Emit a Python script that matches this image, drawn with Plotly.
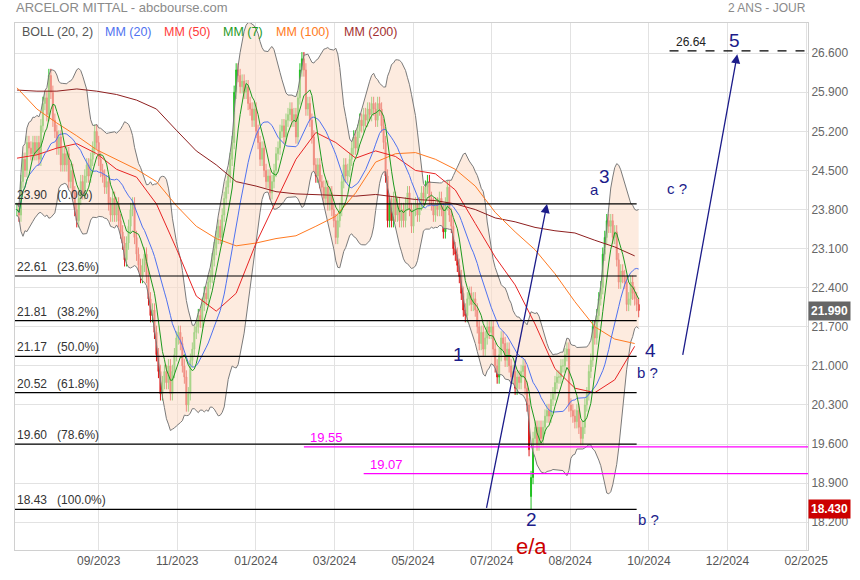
import numpy as np
import pandas as pd
import plotly.graph_objects as go

title_text = "ARCELOR MITTAL - abcbourse.com"
period_text = "2 ANS - JOUR"

# Daily closes (left to right)
seg_a = [23.8, 23.7, 24.3, 24.7, 24.5, 25.0, 24.9, 24.8, 25.0, 24.8,
         25.0, 24.7, 25.3, 25.7, 25.8, 25.5, 26.2, 25.9, 25.4, 25.2,
         24.9, 25.1, 24.6, 24.8, 24.6, 24.8, 24.3, 24.5, 24.1, 23.8,
         23.6, 24.0, 24.3, 24.1, 24.4, 24.6, 24.4, 24.7, 24.9, 25.2,
         25.0, 24.7, 24.5, 24.4, 24.2, 24.3, 23.9, 23.7, 24.0, 23.7,
         23.9, 23.6, 23.4, 23.2, 22.9, 23.2, 23.5, 23.8, 23.9, 23.3,
         23.0, 22.8, 22.6, 22.8, 23.0, 22.6, 22.2, 21.9, 22.0, 21.6,
         21.2, 20.9, 20.5, 20.7, 20.9, 20.7, 21.0, 20.5, 20.9, 21.2,
         21.5, 21.6]
seg_b = [21.4, 21.0, 20.8, 20.3, 20.5, 21.1, 21.3, 21.6, 21.7, 21.9,
         21.8, 22.1, 22.3, 22.2, 22.5, 22.6, 22.9, 23.1, 23.3, 23.5,
         23.3, 23.7, 24.0, 24.2, 24.4, 24.7, 25.0, 25.9, 26.3, 26.2,
         26.0, 26.1, 25.9, 26.0, 25.7, 25.6, 25.4, 25.6, 25.2, 25.0,
         24.7, 24.9, 24.5, 24.3, 24.4, 24.1, 24.3, 24.5, 24.8, 24.9,
         25.2, 25.3, 25.1, 25.4, 25.5, 25.6, 25.4, 25.5, 25.1, 25.8,
         26.3, 26.5, 26.3, 25.6, 25.7, 25.4, 25.1, 24.6, 24.4, 24.6,
         24.3, 24.2, 24.0, 24.2, 23.9, 24.1, 23.8, 23.6, 23.3, 23.6,
         23.8, 24.3, 24.6, 24.4, 24.5]
seg_c = [24.7, 24.9, 25.1, 24.9, 25.2, 25.4, 25.3, 25.5, 25.4, 25.6,
         25.5, 25.7, 25.6, 25.4, 25.7, 25.6, 25.3, 25.0, 24.4, 23.6,
         23.9, 23.6, 24.0, 23.7, 23.9, 23.6, 23.8, 23.6, 23.9, 24.1,
         23.8, 23.5, 23.8, 23.9, 23.7, 23.9, 24.1, 24.0, 24.2, 24.3,
         24.0, 23.9, 23.7, 23.9, 23.8, 24.0, 23.8, 23.4, 23.9, 24.2,
         23.7, 23.5, 23.1, 23.0, 22.8, 22.6, 22.3, 22.0, 21.9, 22.2,
         22.3, 22.1, 22.2, 22.0, 21.7, 21.4, 21.6, 21.3, 21.5, 21.7,
         21.6, 21.7, 21.3, 21.0, 20.8, 21.2]
seg_d = [21.5, 21.4, 21.1, 21.3, 21.0, 20.8, 20.9, 20.6, 20.8, 20.7,
         20.9, 21.0, 20.6, 20.3, 19.5, 19.0, 19.7, 19.9, 19.6, 19.9,
         19.7, 19.9, 20.1, 20.2, 20.1, 20.4, 20.5, 20.7, 20.8, 20.8,
         21.0, 21.0, 21.2, 21.3, 20.3, 20.2, 20.1, 20.0, 20.2, 19.9,
         19.7, 19.9, 20.3, 20.5, 20.9, 21.1, 21.7, 21.5, 21.9, 22.2,
         22.4, 23.0, 23.3, 23.6, 23.5, 23.6, 23.3, 23.4, 22.9, 22.5,
         22.7, 22.6, 22.5, 22.1, 22.2, 22.5, 22.3, 22.2, 22.1, 21.99]

# The August spike bar (gap down, green body, low at 18.43)
spike_bar = 258
spike_open = 18.66
spike_low = 18.43
wick = 0.12

# Long moving averages, one value every 10 bars
ma_step = 10
mm50 = [24.72, 24.78, 24.90, 24.98, 24.80, 24.52, 24.38, 23.90, 23.10, 22.25,
        21.98, 22.30, 23.20, 23.95, 24.70, 25.18, 25.00, 24.72, 24.85, 24.75,
        24.50, 24.44, 24.15, 23.55, 22.95, 22.45, 21.75, 20.95, 20.60, 20.52,
        20.75, 21.35]
mm100 = [25.98, 25.60, 25.35, 25.12, 24.87, 24.70, 24.52, 24.30, 23.87, 23.50,
         23.28, 23.15, 23.20, 23.28, 23.33, 23.50, 23.68, 24.10, 24.65, 24.80,
         24.82, 24.70, 24.52, 24.22, 23.75, 23.40, 23.08, 22.65, 22.15, 21.70,
         21.48, 21.40]
mm200 = [25.94, 25.92, 25.92, 25.96, 25.92, 25.86, 25.76, 25.60, 25.22, 24.85,
         24.60, 24.30, 24.22, 24.12, 24.08, 24.07, 24.05, 24.04, 24.07, 24.03,
         23.98, 23.96, 23.90, 23.80, 23.65, 23.58, 23.48, 23.42, 23.38, 23.25,
         23.13, 22.97]

tick_labels = ["09/2023", "11/2023", "01/2024", "03/2024", "05/2024",
               "07/2024", "08/2024", "10/2024", "12/2024", "02/2025"]
first_tick = 41
tick_step = 39.45

fib_levels = [23.90, 22.61, 21.81, 21.17, 20.52, 19.60, 18.43]
fib_pcts = ["0.0%", "23.6%", "38.2%", "50.0%", "61.8%", "78.6%", "100.0%"]
support_levels = [19.55, 19.07]
support_start = [144, 174]
target_level = 26.64
target_start = 327.5

last_price = 21.99
low_price = 18.43

# ----------------------------------------------------------------------
closes = seg_a + seg_b + seg_c + seg_d
n = len(closes)
idx = np.arange(n)
opens = [closes[0]] + closes[:-1]
opens[spike_bar] = spike_open
highs = [max(o, c) + wick for o, c in zip(opens, closes)]
lows = [min(o, c) - wick for o, c in zip(opens, closes)]
lows[spike_bar] = spike_low

s = pd.Series(closes)
mm7 = s.rolling(7, min_periods=1).mean()
mm20 = s.rolling(20, min_periods=1).mean()
sd20 = s.rolling(20, min_periods=2).std(ddof=0).bfill()
bb_up = mm20 + 2 * sd20
bb_lo = mm20 - 2 * sd20

ma_x = np.arange(len(mm50)) * ma_step

C_BLUE = "#4f72f0"
C_RED = "#e82424"
C_GREEN = "#1f9a1f"
C_ORANGE = "#ff7a22"
C_DRED = "#8e1f1f"
C_NAVY = "#1c1c8a"

fig = go.Figure()
fig.add_trace(go.Scatter(x=idx, y=bb_up, mode="lines",
                         line=dict(color="#7a7a7a", width=1), hoverinfo="skip"))
fig.add_trace(go.Scatter(x=idx, y=bb_lo, mode="lines", fill="tonexty",
                         fillcolor="rgba(252,222,202,0.6)",
                         line=dict(color="#7a7a7a", width=1), hoverinfo="skip"))
fig.add_trace(go.Candlestick(
    x=idx, open=opens, high=highs, low=lows, close=closes,
    increasing=dict(line=dict(color="#22c022", width=1), fillcolor="#22dd22"),
    decreasing=dict(line=dict(color="#dd1515", width=1), fillcolor="#e81818"),
    whiskerwidth=0, hoverinfo="skip"))
fig.add_trace(go.Scatter(x=ma_x, y=mm200, mode="lines", line=dict(color=C_DRED, width=1)))
fig.add_trace(go.Scatter(x=ma_x, y=mm100, mode="lines", line=dict(color=C_ORANGE, width=1)))
fig.add_trace(go.Scatter(x=ma_x, y=mm50, mode="lines", line=dict(color=C_RED, width=1)))
fig.add_trace(go.Scatter(x=idx, y=mm20, mode="lines", line=dict(color=C_BLUE, width=1)))
fig.add_trace(go.Scatter(x=idx, y=mm7, mode="lines", line=dict(color=C_GREEN, width=1)))

shapes = []
annotations = []
fib_end = n - 2
for lvl, pct in zip(fib_levels, fib_pcts):
    shapes.append(dict(type="line", xref="x", yref="y", x0=-1, x1=fib_end,
                       y0=lvl, y1=lvl, line=dict(color="black", width=1.2),
                       layer="above"))
    annotations.append(dict(xref="x", yref="y", x=-1, y=lvl, xanchor="left",
                            yanchor="bottom", showarrow=False,
                            text=f"{lvl:.2f}\u00a0\u00a0\u00a0({pct})",
                            font=dict(size=12, color="#333333")))
for lvl, x0 in zip(support_levels, support_start):
    shapes.append(dict(type="line", xref="x", yref="y", x0=x0, x1=397,
                       y0=lvl, y1=lvl, line=dict(color="#ff00ff", width=1.2),
                       layer="above"))
    annotations.append(dict(xref="x", yref="y", x=x0 + 2, y=lvl, xanchor="left",
                            yanchor="bottom", showarrow=False, text=f"{lvl:.2f}",
                            font=dict(size=13, color="#ff00ff")))
shapes.append(dict(type="line", xref="x", yref="y", x0=target_start, x1=397,
                   y0=target_level, y1=target_level,
                   line=dict(color="black", width=1.2, dash="dash"), layer="above"))
annotations.append(dict(xref="x", yref="y", x=target_start + 2, y=target_level,
                        xanchor="left", yanchor="bottom", showarrow=False,
                        text=f"{target_level:.2f}", font=dict(size=12, color="#222222")))

# Wave arrows (from level to level)
annotations.append(dict(xref="x", yref="y", axref="x", ayref="y",
                        x=266, y=fib_levels[0], ax=235.5, ay=fib_levels[-1],
                        showarrow=True, arrowhead=2, arrowsize=1.4, arrowwidth=1.3,
                        arrowcolor=C_NAVY, text=""))
annotations.append(dict(xref="x", yref="y", axref="x", ayref="y",
                        x=361.5, y=target_level - 0.06, ax=334, ay=fib_levels[3],
                        showarrow=True, arrowhead=2, arrowsize=1.4, arrowwidth=1.3,
                        arrowcolor=C_NAVY, text=""))

wave_texts = [("1", 221.5, 21.2, 19), ("2", 258, 18.25, 19), ("3", 295, 24.4, 19),
              ("4", 318, 21.27, 19), ("5", 360, 26.82, 19),
              ("a", 290, 24.15, 15), ("c ?", 331.5, 24.17, 15),
              ("b ?", 316.5, 20.88, 15), ("b ?", 317, 18.25, 15)]
for t, x, y, sz in wave_texts:
    annotations.append(dict(xref="x", yref="y", x=x, y=y, text=t, showarrow=False,
                            font=dict(size=sz, color=C_NAVY), xanchor="center"))
annotations.append(dict(xref="x", yref="y", x=258, y=17.76, text="e/a", showarrow=False,
                        yanchor="middle", font=dict(size=22, color="#cc0000")))

# Price tags on the right axis
for val, bg in [(last_price, "#666666"), (low_price, "#cc0000")]:
    annotations.append(dict(xref="paper", yref="y", x=1.0, y=val, xanchor="left",
                            text=f"<b>{val:.3f}</b>", showarrow=False, bgcolor=bg,
                            borderpad=2, font=dict(size=12, color="white")))

# Legend row
legend_items = [("BOLL (20, 2)", "#555555", 20), ("MM (20)", C_BLUE, 103),
                ("MM (50)", "#ff3b3b", 163), ("MM (7)", C_GREEN, 222),
                ("MM (100)", C_ORANGE, 275), ("MM (200)", "#a33030", 343)]
for t, c, px in legend_items:
    annotations.append(dict(xref="paper", yref="paper", x=(px - 15) / 796, y=0.983,
                            xanchor="left", yanchor="middle", text=t, showarrow=False,
                            font=dict(size=12.5, color=c)))
annotations.append(dict(xref="paper", yref="paper", x=-0.001, y=1.029, xanchor="left",
                        yanchor="middle", text=title_text, showarrow=False,
                        font=dict(size=13, color="#8a8a8a")))
annotations.append(dict(xref="paper", yref="paper", x=1.0, y=1.029, xanchor="right",
                        yanchor="middle", text=period_text, showarrow=False,
                        font=dict(size=12, color="#8a8a8a")))

tickvals = [first_tick + tick_step * k for k in range(len(tick_labels))]

fig.update_layout(
    width=860, height=580,
    margin=dict(l=15, r=49, t=23, b=27),
    paper_bgcolor="white", plot_bgcolor="white",
    showlegend=False, hovermode=False,
    font=dict(family="Liberation Sans, Arial, sans-serif"),
    shapes=shapes, annotations=annotations,
    xaxis=dict(range=[-1, 397], tickvals=tickvals, ticktext=tick_labels,
               showgrid=True, gridcolor="#e2e2e2", gridwidth=1, zeroline=False,
               showline=True, linecolor="#d0d0d0", mirror=True,
               rangeslider=dict(visible=False), ticks="",
               tickfont=dict(size=12, color="#555555",
                             family="Liberation Sans Narrow, Liberation Sans, Arial")),
    yaxis=dict(range=[17.702, 27.141], side="right", tick0=18.2, dtick=0.7,
               tickformat=".3f", showgrid=True, gridcolor="#e2e2e2", gridwidth=1,
               zeroline=False, showline=True, linecolor="#d0d0d0", mirror=True,
               ticks="", tickfont=dict(size=12, color="#666666")),
)

fig.write_html("out.html", config={"displayModeBar": False},
               post_script="document.body.style.margin='0';")
